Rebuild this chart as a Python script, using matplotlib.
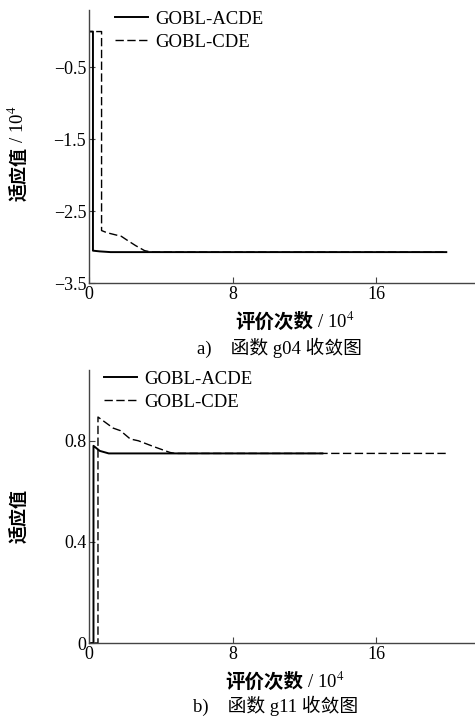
import matplotlib
matplotlib.use("Agg")
import matplotlib.pyplot as plt

plt.rcParams["font.family"] = ["Liberation Serif", "Noto Sans CJK SC", "DejaVu Serif"]
plt.rcParams["mathtext.fontset"] = "stix"

# g04 convergence (fitness in 10^4, evaluations in 10^4)
g04_acde_x = [0.05, 0.22, 0.22, 0.6, 1.2, 3.0, 19.9]
g04_acde_y = [0.0, 0.0, -3.05, -3.06, -3.07, -3.07, -3.07]
g04_cde_x = [0.4, 0.7, 0.7, 1.0, 1.8, 2.1, 2.6, 3.1, 3.5, 19.9]
g04_cde_y = [0.0, 0.0, -2.77, -2.80, -2.85, -2.90, -2.98, -3.05, -3.07, -3.07]

# g11 convergence
g11_acde_x = [0.12, 0.25, 0.25, 0.6, 1.1, 13.0]
g11_acde_y = [0.0, 0.0, 0.78, 0.76, 0.75, 0.75]
g11_cde_x = [0.3, 0.5, 0.5, 1.35, 1.75, 2.3, 2.75, 3.6, 4.5, 4.8, 20.0]
g11_cde_y = [0.0, 0.0, 0.894, 0.85, 0.84, 0.807, 0.80, 0.777, 0.754, 0.75, 0.75]

labels = ["GOBL-ACDE", "GOBL-CDE"]
xticks = [0, 8, 16]

W, H = 475, 717
fig = plt.figure(figsize=(W / 100, H / 100), dpi=100)


def make_axes(top_px, bottom_px):
    return fig.add_axes([89 / W, 1 - bottom_px / H, (W - 89) / W, (bottom_px - top_px) / H])


def style(ax):
    for s in ["top", "right"]:
        ax.spines[s].set_visible(False)
    for s in ["left", "bottom"]:
        ax.spines[s].set_color("#444444")
        ax.spines[s].set_linewidth(1.0)
    ax.tick_params(direction="in", length=4, width=0.8, color="#444444",
                   labelsize=13, pad=2)
    ax.set_xticks(xticks)
    ax.set_xticklabels([str(t) for t in xticks])
    ax.set_xlim(0, 21.5)


def add_legend(ax, x0):
    ax.legend(loc="upper left", bbox_to_anchor=(x0, 1.025), frameon=False,
              fontsize=13.5, handlelength=1.75, handletextpad=0.4,
              labelspacing=0.3, borderaxespad=0)


def xlabel(x_px, y_px):
    # bold CJK part, then regular " / 10^4"
    fig.text(x_px / W, 1 - y_px / H, "评价次数", ha="right", va="baseline",
             fontsize=14, fontweight="bold")
    fig.text(x_px / W, 1 - y_px / H, " / 10$^4$", ha="left", va="baseline",
             fontsize=13.5)


def ylabel(x_px, y_px, unit):
    if unit:
        fig.text(x_px / W, 1 - y_px / H, "适应值", rotation=90, ha="right",
                 va="bottom", fontsize=13, fontweight="bold",
                 rotation_mode="anchor")
        fig.text(x_px / W, 1 - y_px / H, " / 10$^4$", rotation=90, ha="left",
                 va="bottom", fontsize=13.5, rotation_mode="anchor")
    else:
        fig.text(x_px / W, 1 - y_px / H, "适应值", rotation=90, ha="center",
                 va="bottom", fontsize=13, fontweight="bold",
                 rotation_mode="anchor")


# a) g04
ax1 = make_axes(10, 283)
ax1.plot(g04_acde_x, g04_acde_y, color="black", lw=1.4, label=labels[0])
ax1.plot(g04_cde_x, g04_cde_y, color="black", lw=1.0, dashes=(6, 2.5), label=labels[1])
style(ax1)
ax1.set_ylim(-3.5, 0.3)
ax1.set_yticks([-3.5, -2.5, -1.5, -0.5])
ax1.set_yticklabels(["\u22123.5", "\u22122.5", "\u22121.5", "\u22120.5"])
add_legend(ax1, 0.048)
ylabel(28, 147, True)
xlabel(313, 328)
fig.text(279 / W, 1 - 348 / H, "a)    函数 g04 收敛图", ha="center", va="center",
         fontsize=13.5)

# b) g11
ax2 = make_axes(370, 643)
ax2.plot(g11_acde_x, g11_acde_y, color="black", lw=1.4, label=labels[0])
ax2.plot(g11_cde_x, g11_cde_y, color="black", lw=1.0, dashes=(6, 2.5), label=labels[1])
style(ax2)
ax2.set_ylim(0, 1.08)
ax2.set_yticks([0, 0.4, 0.8])
ax2.set_yticklabels(["0", "0.4", "0.8"])
add_legend(ax2, 0.02)
ylabel(28, 516, False)
xlabel(303, 688)
fig.text(276 / W, 1 - 706 / H, "b)    函数 g11 收敛图", ha="center", va="center",
         fontsize=13.5)

fig.savefig("out.png", dpi=100)
